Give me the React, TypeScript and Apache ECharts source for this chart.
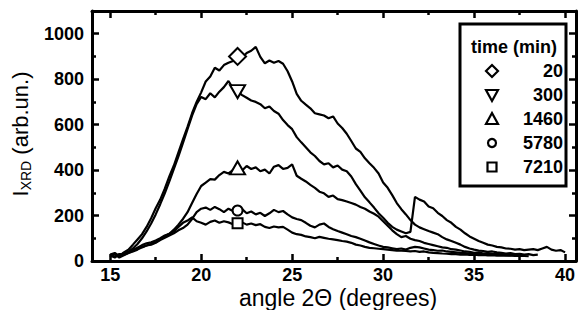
import React, { useEffect, useRef } from "react";
import * as echarts from "echarts";

const ANGLES = [
  15, 15.25, 15.5, 15.75, 16, 16.25, 16.5, 16.75, 17, 17.25, 17.5, 17.75,
  18, 18.25, 18.5, 18.75, 19, 19.25, 19.5, 19.75, 20, 20.25, 20.5, 20.75,
  21, 21.25, 21.5, 21.75, 22, 22.25, 22.5, 22.75, 23, 23.25, 23.5, 23.75,
  24, 24.25, 24.5, 24.75, 25, 25.25, 25.5, 25.75, 26, 26.25, 26.5, 26.75,
  27, 27.25, 27.5, 27.75, 28, 28.25, 28.5, 28.75, 29, 29.25, 29.5, 29.75,
  30, 30.25, 30.5, 30.75, 31, 31.25, 31.5, 31.75, 32, 32.25, 32.5, 32.75,
  33, 33.25, 33.5, 33.75, 34, 34.25, 34.5, 34.75, 35, 35.25, 35.5, 35.75,
  36, 36.25, 36.5, 36.75, 37, 37.25, 37.5, 37.75, 38, 38.25, 38.5, 38.75,
  39, 39.25, 39.5, 39.75, 40,
];

const T20 = [
  28, 35, 22, 38, 50, 72, 95, 118, 150, 188, 232, 270,
  318, 372, 420, 478, 535, 590, 650, 700, 742, 790, 812, 850,
  838, 862, 872, 880, 900, 895, 915, 925, 942, 898, 870, 882,
  872, 880, 868, 835, 790, 735, 705, 688, 672, 650, 645, 640,
  628, 636, 605, 585, 560, 528, 495, 480, 452, 430, 410, 385,
  345, 322, 290, 255, 228, 205, 180, 160, 148, 140, 132, 125,
  118, 105, 95, 88, 80, 72, 62, 55, 50, 46, 44, 40,
  42, 38, 36, 33, 35, 30, 32, 28, 30, 26, 28,
];

const T300 = [
  25, 18, 30, 28, 40, 55, 75, 100, 130, 165, 205, 250,
  298, 350, 405, 460, 520, 580, 640, 690, 722, 712, 738, 720,
  745, 765, 792, 760, 745, 730, 718, 706, 700, 690, 672, 680,
  660, 648, 620, 598, 580, 545, 522, 500, 478, 462, 440, 425,
  430, 412, 420, 402, 395, 372, 338, 310, 280, 258, 235, 210,
  190, 168, 150, 138, 130, 122, 128, 282, 270, 262, 240, 232,
  212, 198, 180, 168, 150, 138, 122, 108, 98, 88, 80, 72,
  68, 62, 60, 55, 54, 50, 52, 48, 50, 52, 48, 55,
  62, 50, 45, 48, 38,
];

const T1460 = [
  20, 30, 15, 25, 35, 42, 50, 60, 68, 75, 82, 95,
  108, 120, 138, 160, 185, 215, 255, 295, 330, 345, 360, 358,
  378, 392, 385, 400, 410, 398, 418, 405, 412, 395, 402, 385,
  415, 422, 405, 410, 425, 375, 362, 350, 335, 322, 305, 298,
  282, 288, 272, 268, 262, 255, 248, 238, 230, 218, 208, 195,
  175, 155, 135, 118, 105, 110, 98, 92, 88, 80, 75, 70,
  65, 60, 58, 52, 50, 46, 42, 40, 36, 38, 33, 35,
  30, 32, 28, 30, 26, 28, 25,
];

const T5780 = [
  25, 15, 30, 28, 35, 45, 55, 62, 68, 72, 80, 92,
  102, 112, 122, 135, 145, 160, 185, 215, 230, 235, 225, 238,
  228, 215, 230, 220, 222, 228, 210, 218, 205, 212, 198, 210,
  225, 215, 220, 205, 192, 185, 180, 168, 155, 148, 160, 165,
  150, 140, 132, 125, 118, 110, 105, 98, 90, 82, 75, 68,
  62, 60, 56, 52, 55, 50, 58, 62, 60, 55, 50, 48,
  45, 46, 42, 40, 38, 36, 35, 33, 32, 30, 31, 28,
  29, 27, 28, 26, 25,
];

const T7210 = [
  18, 32, 20, 35, 40, 48, 58, 70, 78, 82, 90, 100,
  112, 120, 130, 150, 168, 178, 192, 175, 168, 160, 172, 178,
  168, 175, 170, 162, 166, 170, 160, 165, 158, 162, 150, 145,
  152, 148, 150, 138, 125, 118, 115, 108, 105, 100, 106, 102,
  98, 95, 92, 88, 85, 80, 72, 68, 62, 58, 56, 54,
  52, 50, 48, 46, 45, 44, 42, 44, 40, 42, 38, 36,
  35, 33, 32, 30, 30, 28, 29, 27, 28, 26, 27, 25,
  26, 24, 25, 23, 24, 22, 23, 22, 21,
];

const TIMES = ["20", "300", "1460", "5780", "7210"];
const SERIES = [T20, T300, T1460, T5780, T7210];
const MARK_ANGLE = 22;
const MARK_VALUES = [900, 745, 410, 222, 166];
const MARK_SYMBOLS = ["diamond", "triangle", "triangle", "circle", "rect"];
const MARK_ROTATE = [0, 180, 0, 0, 0];
const MARK_SIZES = [[17, 17], [15, 13], [15, 13], [10, 10], [10, 10]];

const X_MAJOR = [15, 20, 25, 30, 35, 40];
const X_MINOR = [17.5, 22.5, 27.5, 32.5, 37.5];
const Y_MAJOR = [0, 200, 400, 600, 800, 1000];
const Y_MINOR = [100, 300, 500, 700, 900];

const FONT = "Liberation Sans, Arial, sans-serif";
const X_MIN = 14;
const X_MAX = 40.6;
const Y_MIN = 0;
const Y_MAX = 1100;

function xAxisDef(pos: string, ticks: number[], len: number, showLine: boolean, labels: boolean) {
  return {
    type: "value",
    position: pos,
    min: X_MIN,
    max: X_MAX,
    axisLine: { show: showLine, onZero: false, lineStyle: { color: "#000", width: 3 } },
    axisTick: { show: true, inside: true, length: len, customValues: ticks, lineStyle: { color: "#000", width: 2.5 } },
    axisLabel: labels
      ? { show: true, customValues: ticks, margin: 5, color: "#000", fontFamily: FONT, fontWeight: "bold", fontSize: 18, formatter: (v: number) => String(v) }
      : { show: false },
    splitLine: { show: false },
  };
}

function yAxisDef(pos: string, ticks: number[], len: number, showLine: boolean, labels: boolean) {
  return {
    type: "value",
    position: pos,
    min: Y_MIN,
    max: Y_MAX,
    axisLine: { show: showLine, onZero: false, lineStyle: { color: "#000", width: 3 } },
    axisTick: { show: true, inside: true, length: len, customValues: ticks, lineStyle: { color: "#000", width: 2.5 } },
    axisLabel: labels
      ? { show: true, customValues: ticks, margin: 8, color: "#000", fontFamily: FONT, fontWeight: "bold", fontSize: 18, formatter: (v: number) => String(v) }
      : { show: false },
    splitLine: { show: false },
  };
}

export default function App() {
  const ref = useRef<HTMLDivElement>(null);
  useEffect(() => {
    if (!ref.current) return;
    const chart = echarts.init(ref.current, null, { renderer: "svg" });

    const lineSeries = SERIES.map((vals, k) => ({
      type: "line",
      name: TIMES[k],
      xAxisIndex: 0,
      yAxisIndex: 0,
      showSymbol: false,
      symbol: "none",
      data: vals.map((v, i) => [ANGLES[i], v]),
      lineStyle: { color: "#000", width: 2.2 },
      z: 2,
    }));

    const markSeries = MARK_VALUES.map((v, k) => ({
      type: "scatter",
      name: TIMES[k] + " marker",
      xAxisIndex: 0,
      yAxisIndex: 0,
      data: [[MARK_ANGLE, v]],
      symbol: MARK_SYMBOLS[k],
      symbolRotate: MARK_ROTATE[k],
      symbolSize: MARK_SIZES[k],
      itemStyle: { color: "#fff", borderColor: "#000", borderWidth: 2, opacity: 1 },
      z: 5,
    }));

    const LX = 492;
    const LT = 71;
    const LS = 24;
    const legendSymbols: any[] = [
      { type: "polygon", shape: { points: [[LX, LT - 6], [LX + 6, LT], [LX, LT + 6], [LX - 6, LT]] } },
      { type: "polygon", shape: { points: [[LX - 6, LT + LS - 5], [LX + 6, LT + LS - 5], [LX, LT + LS + 6]] } },
      { type: "polygon", shape: { points: [[LX - 6, LT + 2 * LS + 5], [LX + 6, LT + 2 * LS + 5], [LX, LT + 2 * LS - 6]] } },
      { type: "circle", shape: { cx: LX, cy: LT + 3 * LS, r: 4 } },
      { type: "rect", shape: { x: LX - 4.5, y: LT + 4 * LS - 4.5, width: 9, height: 9 } },
    ].map((g) => ({ ...g, style: { fill: "#fff", stroke: "#000", lineWidth: 2.2 }, z: 20 }));

    const legendTexts = TIMES.map((t, k) => ({
      type: "text",
      x: 563,
      y: LT + k * LS,
      style: { text: t, fill: "#000", font: `bold 18px ${FONT}`, textAlign: "right", textVerticalAlign: "middle" },
      z: 20,
    }));

    chart.setOption({
      animation: false,
      backgroundColor: "#fff",
      grid: { left: 92, right: 6, top: 11, bottom: 49, containLabel: false },
      xAxis: [
        xAxisDef("bottom", X_MAJOR, 7, true, true),
        xAxisDef("bottom", X_MINOR, 4, false, false),
        xAxisDef("top", X_MAJOR, 7, true, false),
        xAxisDef("top", X_MINOR, 4, false, false),
      ],
      yAxis: [
        yAxisDef("left", Y_MAJOR, 7, true, true),
        yAxisDef("left", Y_MINOR, 4, false, false),
        yAxisDef("right", Y_MAJOR, 7, true, false),
        yAxisDef("right", Y_MINOR, 4, false, false),
      ],
      series: [...lineSeries, ...markSeries],
      graphic: [
        {
          type: "rect",
          shape: { x: 460, y: 24, width: 106, height: 162 },
          style: { fill: "#fff", stroke: "#000", lineWidth: 3 },
          z: 19,
        },
        {
          type: "text",
          x: 514,
          y: 47,
          style: { text: "time (min)", fill: "#000", font: `bold 18px ${FONT}`, textAlign: "center", textVerticalAlign: "middle" },
          z: 20,
        },
        ...legendSymbols,
        ...legendTexts,
        {
          type: "text",
          x: 338,
          y: 298,
          style: { text: "angle 2Θ (degrees)", fill: "#000", font: `23px ${FONT}`, textAlign: "center", textVerticalAlign: "middle" },
          z: 20,
        },
        {
          type: "text",
          x: 20,
          y: 134,
          rotation: Math.PI / 2,
          style: {
            text: "{a|I}{s|XRD}{a| (arb.un.)}",
            fill: "#000",
            align: "center",
            verticalAlign: "middle",
            textAlign: "center",
            textVerticalAlign: "middle",
            rich: {
              a: { fontSize: 22, fontFamily: FONT, fill: "#000" },
              s: { fontSize: 14, fontFamily: FONT, fill: "#000", padding: [12, 0, 0, 0] },
            },
          },
          z: 20,
        },
      ],
    });
    return () => chart.dispose();
  }, []);
  return <div ref={ref} style={{ position: "fixed", left: 0, top: 0, width: 582, height: 310 }} />;
}
